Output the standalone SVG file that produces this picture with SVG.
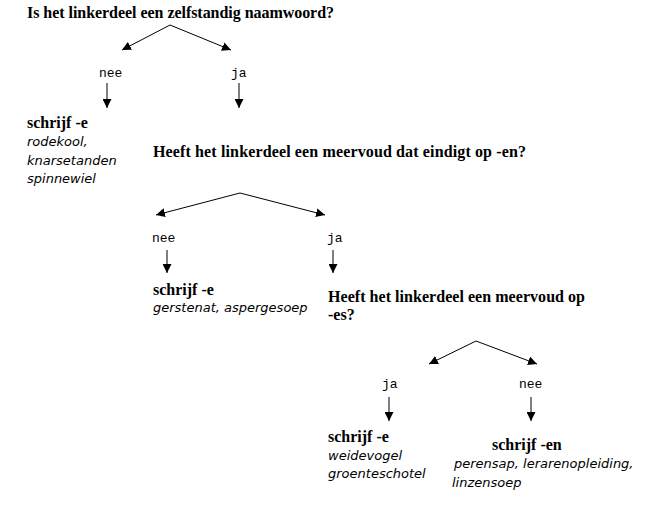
<svg xmlns="http://www.w3.org/2000/svg" width="648" height="524" viewBox="0 0 648 524">
<defs>
<style>
.q{font-family:"Liberation Serif","Times New Roman",serif;font-weight:bold;font-size:16px;fill:#000}
.b{font-family:"Liberation Serif","Times New Roman",serif;font-weight:bold;font-size:16px;fill:#000}
.ex{font-family:"DejaVu Sans",Verdana,sans-serif;font-style:italic;font-size:13px;fill:#000}
.lab{font-family:"Liberation Mono","Courier New",monospace;font-size:13px;fill:#000}
.c{stroke:#000;stroke-width:1;fill:none}
</style>
<marker id="ah" viewBox="0 0 10 10" refX="10" refY="5" markerWidth="9" markerHeight="9" markerUnits="userSpaceOnUse" orient="auto">
<path d="M0,0 L10,5 L0,10 z" fill="#000"/>
</marker>
</defs>
<rect width="648" height="524" fill="#fff"/>

<g id="connectors">
<path class="c" d="M170,25 L122,50" marker-end="url(#ah)"/>
<path class="c" d="M170,25 L231,50" marker-end="url(#ah)"/>
<path class="c" d="M107,83 L107,108" marker-end="url(#ah)"/>
<path class="c" d="M239,83 L239,108" marker-end="url(#ah)"/>
<path class="c" d="M240,193 L156,215" marker-end="url(#ah)"/>
<path class="c" d="M240,193 L325,215" marker-end="url(#ah)"/>
<path class="c" d="M167,250 L167,273" marker-end="url(#ah)"/>
<path class="c" d="M333,250 L333,273" marker-end="url(#ah)"/>
<path class="c" d="M476,341 L429,364" marker-end="url(#ah)"/>
<path class="c" d="M476,341 L537,364" marker-end="url(#ah)"/>
<path class="c" d="M389,397 L389,421" marker-end="url(#ah)"/>
<path class="c" d="M531,397 L531,421" marker-end="url(#ah)"/>
</g>

<g id="q1"><text class="q" x="27" y="18" textLength="307" lengthAdjust="spacing">Is het linkerdeel een zelfstandig naamwoord?</text></g>
<g id="l1nee"><text class="lab" x="99" y="77">nee</text></g>
<g id="l1ja"><text class="lab" x="231" y="77">ja</text></g>
<g id="r1">
<text class="b" x="27" y="128">schrijf -e</text>
<text class="ex" x="27" y="146">rodekool,</text>
<text class="ex" x="27" y="165">knarsetanden</text>
<text class="ex" x="27" y="183">spinnewiel</text>
</g>

<g id="q2"><text class="q" x="153" y="157" textLength="373" lengthAdjust="spacing">Heeft het linkerdeel een meervoud dat eindigt op -en?</text></g>
<g id="l2nee"><text class="lab" x="152" y="242">nee</text></g>
<g id="l2ja"><text class="lab" x="327" y="242">ja</text></g>
<g id="r2">
<text class="b" x="153" y="295">schrijf -e</text>
<text class="ex" x="153" y="312">gerstenat, aspergesoep</text>
</g>

<g id="q3">
<text class="q" x="328" y="302" textLength="257" lengthAdjust="spacing">Heeft het linkerdeel een meervoud op</text>
<text class="q" x="328" y="320">-es?</text>
</g>
<g id="l3ja"><text class="lab" x="382" y="388">ja</text></g>
<g id="l3nee"><text class="lab" x="519" y="388">nee</text></g>
<g id="r3">
<text class="b" x="328" y="442">schrijf -e</text>
<text class="ex" x="328" y="460">weidevogel</text>
<text class="ex" x="328" y="478">groenteschotel</text>
</g>
<g id="r4">
<text class="b" x="492" y="450">schrijf -en</text>
<text class="ex" x="454" y="468">perensap, lerarenopleiding,</text>
<text class="ex" x="452" y="487">linzensoep</text>
</g>
</svg>
